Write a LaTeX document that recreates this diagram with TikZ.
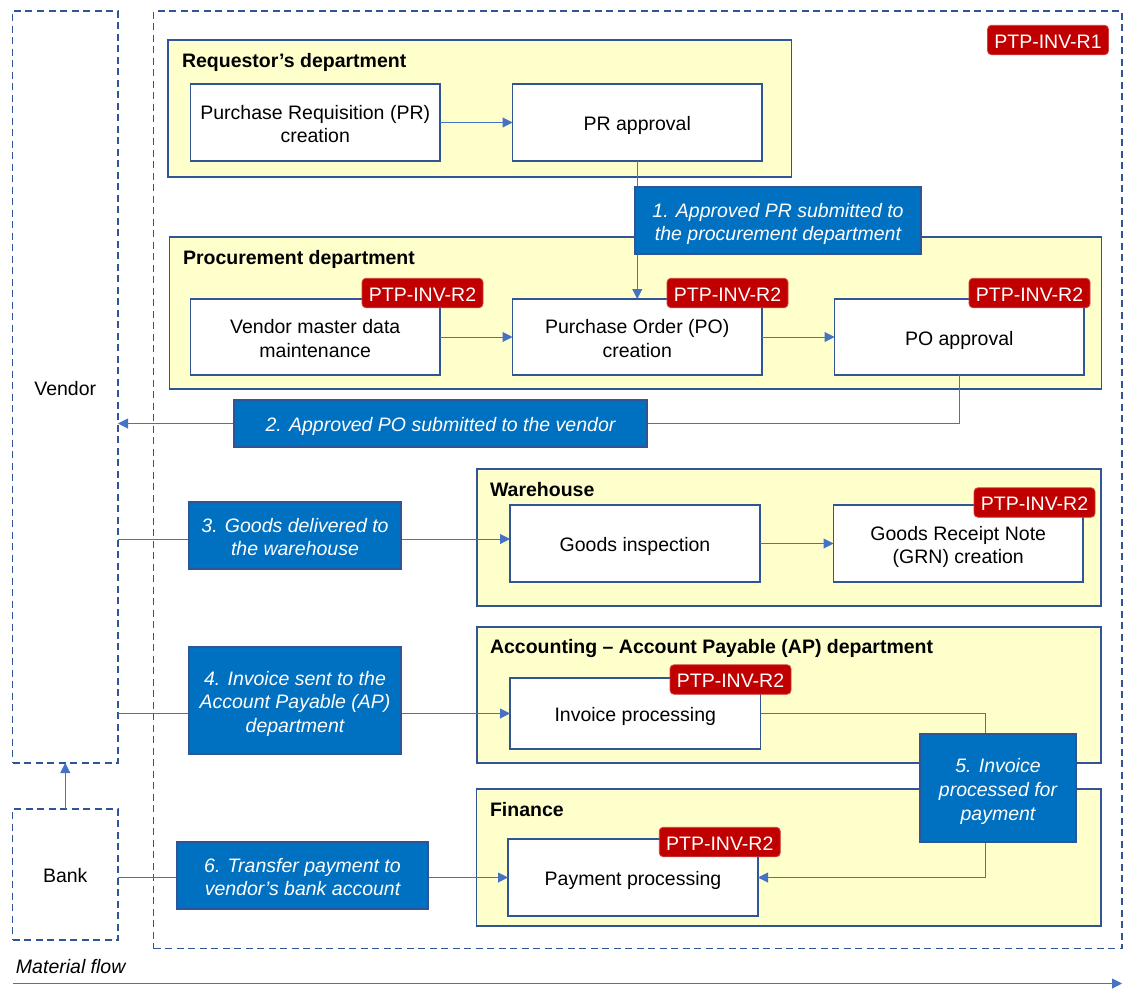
\documentclass[tikz,border=0pt]{standalone}
\usepackage{fontspec}
\setmainfont{Liberation Sans}
\usetikzlibrary{arrows.meta}
\definecolor{frameblue}{HTML}{2F5597}
\definecolor{lineblue}{HTML}{4472C4}
\definecolor{labelblue}{HTML}{0070C0}
\definecolor{deptyellow}{HTML}{FFFFCC}
\definecolor{tagred}{HTML}{C00000}
% struts giving every text block a fixed first-line height and last-line depth
\newcommand\topstrut{\rule[-4.1pt]{0pt}{25pt}}
\newcommand\botstrut{\rule[-4.1pt]{0pt}{21.8pt}}
% first line of a multi-line block
\newcommand\mlstrut{\rule[-4.1pt]{0pt}{25.1pt}}

\begin{document}
\begin{tikzpicture}[x=1pt,y=-1pt,
  every node/.style={font=\fontsize{19.5}{23.7}\selectfont, inner sep=0pt, outer sep=0pt,
    execute at begin node=\topstrut, execute at end node=\botstrut},
  wh/.style 2 args={minimum width=#1, minimum height=#2},
  dashframe/.style={draw=frameblue, line width=1.4pt, dash pattern=on 7pt off 4.5pt},
  dept/.style={draw=frameblue, fill=deptyellow, line width=1.6pt},
  task/.style={draw=frameblue, fill=white, line width=1.6pt, align=center},
  msg/.style={draw=frameblue, fill=labelblue, line width=1.2pt, text=white, align=center,
    font=\fontsize{19.5}{23.7}\selectfont\itshape},
  tag/.style={draw=tagred!75!white, fill=tagred, line width=0.8pt, rounded corners=4pt,
    text=white, minimum width=121pt, minimum height=29.5pt},
  flow/.style={draw=lineblue, line width=1pt, -{Triangle[length=10pt,width=10pt]}},
  title/.style={anchor=base west, font=\fontsize{19.5}{23.7}\selectfont\bfseries}]

\useasboundingbox (0,0) rectangle (1124,988);

% external parties and the company boundary
\node[dashframe, wh={968.5pt}{937.5pt}] (company) at (637.75,479.75) {};
\node[dashframe, wh={105.5pt}{752pt}] (vendor) at (65.25,387) {Vendor};
\node[dashframe, wh={105.5pt}{131pt}] (bank) at (65.25,874.5) {Bank};

% departments
\node[dept, wh={623.5pt}{137pt}] (reqdept) at (479.75,108.5) {};
\node[title] (reqtitle) at (182,67) {Requestor’s department};
\node[dept, wh={932pt}{152pt}] (procdept) at (635.5,313) {};
\node[title] (proctitle) at (183,264) {Procurement department};
\node[dept, wh={624pt}{137pt}] (whdept) at (789,537.5) {};
\node[title] (whtitle) at (490,496) {Warehouse};
\node[dept, wh={624pt}{136pt}] (apdept) at (789,695) {};
\node[title] (aptitle) at (490,653.5) {Accounting – Account Payable (AP) department};
\node[dept, wh={624.5pt}{137pt}] (findept) at (788.75,857.5) {};
\node[title] (fintitle) at (490,816) {Finance};

% process steps
\node[task, wh={249.5pt}{77pt}] (prc) at (315.25,122.5) {\mlstrut Purchase Requisition (PR)\\creation};
\node[task, wh={249.5pt}{77pt}] (pra) at (637.25,122.5) {PR approval};
\node[task, wh={249.5pt}{76pt}] (vm) at (315.25,337) {\mlstrut Vendor master data\\maintenance};
\node[task, wh={249.5pt}{76pt}] (poc) at (637.25,337) {\mlstrut Purchase Order (PO)\\creation};
\node[task, wh={249.5pt}{76pt}] (poa) at (959.25,337) {PO approval};
\node[task, wh={250pt}{77pt}] (gi) at (635,543.5) {Goods inspection};
\node[task, wh={249.5pt}{77pt}] (grn) at (958.25,543.5) {\mlstrut Goods Receipt Note\\(GRN) creation};
\node[task, wh={250.5pt}{71pt}] (inv) at (635.25,713.5) {Invoice processing};
\node[task, wh={250pt}{77pt}] (pay) at (633,877.5) {Payment processing};

% connectors
\coordinate (goodsy) at (0,539);
\coordinate (turnx) at (985,0);
\coordinate (mfstart) at (12.5,983.5);
\coordinate (mfend) at (1122,983.5);

\draw[flow] (prc.east) -- (pra.west);
\draw[flow] (pra.south) -- (poc.north);
\draw[flow] (vm.east) -- (poc.west);
\draw[flow] (poc.east) -- (poa.west);
\draw[flow] (poa.south) -- (poa.south |- 0,423.5) -- (vendor.east |- 0,423.5);
\draw[flow] (vendor.east |- goodsy) -- (gi.west |- goodsy);
\draw[flow] (gi.east) -- (grn.west);
\draw[flow] (vendor.east |- inv.west) -- (inv.west);
\draw[flow] (inv.east) -- (turnx |- inv.east) -- (turnx |- pay.east) -- (pay.east);
\draw[flow] (bank.east |- pay.west) -- (pay.west);
\draw[flow] (bank.north) -- (vendor.south);
\draw[flow] (mfstart) -- (mfend);

% flow descriptions
\node[msg, wh={286pt}{67pt}] (m1) at (778,220.5) {\mlstrut 1. Approved PR submitted to\\the procurement department};
\node[msg, wh={413pt}{47pt}] (m2) at (440.5,423.5) {2. Approved PO submitted to the vendor};
\node[msg, wh={212pt}{67pt}] (m3) at (295,535.5) {\mlstrut 3. Goods delivered to\\the warehouse};
\node[msg, wh={212pt}{107pt}] (m4) at (295,700.5) {\mlstrut 4. Invoice sent to the\\Account Payable (AP)\\department};
\node[msg, wh={156pt}{108pt}] (m5) at (998,788) {\mlstrut 5. Invoice\\processed for\\payment};
\node[msg, wh={251pt}{67pt}] (m6) at (302.5,875.5) {\mlstrut 6. Transfer payment to\\vendor’s bank account};

\node[anchor=base west, font=\fontsize{19.5}{23.7}\selectfont\itshape] (mflabel) at (16,973.5) {Material flow};

% control references
\node[tag] (t1) at (1048,40) {PTP-INV-R1};
\node[tag] (tvm) at (422.5,293) {PTP-INV-R2};
\node[tag] (tpoc) at (727.5,293) {PTP-INV-R2};
\node[tag] (tpoa) at (1029.5,293) {PTP-INV-R2};
\node[tag] (tgrn) at (1034.5,502.5) {PTP-INV-R2};
\node[tag] (tinv) at (730.5,679.5) {PTP-INV-R2};
\node[tag] (tpay) at (719.75,842) {PTP-INV-R2};
\end{tikzpicture}
\end{document}
